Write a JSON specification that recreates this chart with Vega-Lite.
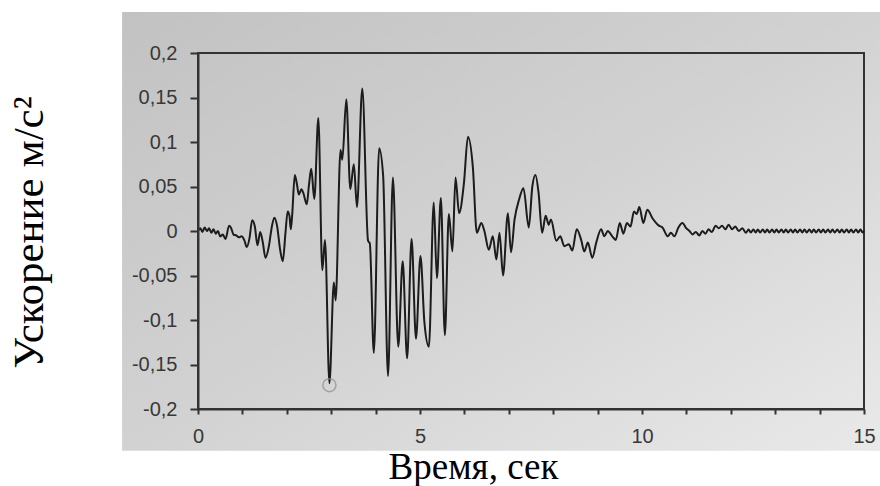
{
  "$schema": "https://vega.github.io/schema/vega-lite/v6.json",
  "width": 666,
  "height": 356,
  "autosize": {"type": "none"},
  "padding": {"left": 198, "top": 53, "right": 16, "bottom": 77},
  "background": "white",
  "config": {
    "view": {"stroke": null},
    "axis": {
      "zindex": 1,
      "grid": false,
      "titleFont": "Liberation Serif",
      "titleFontWeight": "normal",
      "titleColor": "#000000"
    }
  },
  "datasets": {
    "accel": [
      {"t": 0.00, "a": 0.000}, {"t": 0.05, "a": 0.003}, {"t": 0.10, "a": -0.001}, {"t": 0.15, "a": 0.004},
      {"t": 0.20, "a": 0.000}, {"t": 0.25, "a": 0.003}, {"t": 0.30, "a": -0.002}, {"t": 0.35, "a": 0.002},
      {"t": 0.40, "a": -0.003}, {"t": 0.45, "a": 0.000}, {"t": 0.50, "a": -0.006}, {"t": 0.56, "a": -0.004},
      {"t": 0.62, "a": -0.009}, {"t": 0.70, "a": 0.006}, {"t": 0.74, "a": 0.004}, {"t": 0.80, "a": -0.004},
      {"t": 0.86, "a": -0.005}, {"t": 0.92, "a": -0.007}, {"t": 0.98, "a": -0.006}, {"t": 1.04, "a": -0.010},
      {"t": 1.10, "a": -0.018}, {"t": 1.16, "a": -0.008}, {"t": 1.22, "a": 0.012}, {"t": 1.28, "a": 0.005},
      {"t": 1.34, "a": -0.016}, {"t": 1.40, "a": -0.001}, {"t": 1.46, "a": -0.013}, {"t": 1.52, "a": -0.030},
      {"t": 1.60, "a": -0.016}, {"t": 1.66, "a": 0.004}, {"t": 1.72, "a": 0.015}, {"t": 1.78, "a": 0.006},
      {"t": 1.85, "a": -0.021}, {"t": 1.91, "a": -0.034}, {"t": 1.97, "a": -0.002}, {"t": 2.02, "a": 0.022},
      {"t": 2.06, "a": 0.017}, {"t": 2.09, "a": 0.002}, {"t": 2.12, "a": 0.017}, {"t": 2.18, "a": 0.063},
      {"t": 2.23, "a": 0.052}, {"t": 2.27, "a": 0.041}, {"t": 2.33, "a": 0.047}, {"t": 2.37, "a": 0.043},
      {"t": 2.45, "a": 0.030}, {"t": 2.50, "a": 0.052}, {"t": 2.55, "a": 0.070}, {"t": 2.62, "a": 0.036},
      {"t": 2.71, "a": 0.127}, {"t": 2.80, "a": -0.044}, {"t": 2.86, "a": -0.010}, {"t": 2.96, "a": -0.171},
      {"t": 3.06, "a": -0.058}, {"t": 3.10, "a": -0.078}, {"t": 3.21, "a": 0.091}, {"t": 3.25, "a": 0.080},
      {"t": 3.34, "a": 0.148}, {"t": 3.43, "a": 0.047}, {"t": 3.51, "a": 0.075}, {"t": 3.58, "a": 0.027},
      {"t": 3.70, "a": 0.160}, {"t": 3.83, "a": -0.011}, {"t": 3.87, "a": -0.014}, {"t": 3.96, "a": -0.137},
      {"t": 4.08, "a": 0.093}, {"t": 4.17, "a": 0.062}, {"t": 4.28, "a": -0.163}, {"t": 4.39, "a": 0.060},
      {"t": 4.51, "a": -0.130}, {"t": 4.61, "a": -0.034}, {"t": 4.71, "a": -0.143}, {"t": 4.81, "a": -0.009},
      {"t": 4.91, "a": -0.121}, {"t": 5.01, "a": -0.028}, {"t": 5.10, "a": -0.103}, {"t": 5.20, "a": -0.130},
      {"t": 5.31, "a": 0.032}, {"t": 5.38, "a": -0.053}, {"t": 5.47, "a": 0.037}, {"t": 5.56, "a": -0.117},
      {"t": 5.65, "a": 0.019}, {"t": 5.73, "a": -0.023}, {"t": 5.80, "a": 0.060}, {"t": 5.88, "a": 0.020},
      {"t": 5.99, "a": 0.054}, {"t": 6.08, "a": 0.106}, {"t": 6.19, "a": 0.072}, {"t": 6.28, "a": -0.002},
      {"t": 6.38, "a": 0.009}, {"t": 6.45, "a": 0.000}, {"t": 6.55, "a": -0.021}, {"t": 6.64, "a": -0.006},
      {"t": 6.72, "a": -0.032}, {"t": 6.79, "a": -0.002}, {"t": 6.87, "a": -0.050}, {"t": 6.98, "a": 0.020},
      {"t": 7.05, "a": -0.024}, {"t": 7.13, "a": 0.013}, {"t": 7.23, "a": 0.035}, {"t": 7.33, "a": 0.048},
      {"t": 7.45, "a": 0.004}, {"t": 7.53, "a": 0.050}, {"t": 7.60, "a": 0.063}, {"t": 7.67, "a": 0.043},
      {"t": 7.75, "a": -0.002}, {"t": 7.83, "a": 0.017}, {"t": 7.90, "a": 0.007}, {"t": 7.95, "a": 0.013},
      {"t": 8.07, "a": -0.011}, {"t": 8.16, "a": -0.006}, {"t": 8.25, "a": -0.017}, {"t": 8.35, "a": -0.015},
      {"t": 8.43, "a": -0.022}, {"t": 8.53, "a": 0.002}, {"t": 8.63, "a": -0.010}, {"t": 8.70, "a": -0.023},
      {"t": 8.78, "a": -0.013}, {"t": 8.88, "a": -0.030}, {"t": 8.97, "a": -0.013}, {"t": 9.08, "a": 0.002},
      {"t": 9.15, "a": -0.006}, {"t": 9.23, "a": 0.000}, {"t": 9.33, "a": -0.006}, {"t": 9.41, "a": -0.010},
      {"t": 9.50, "a": 0.009}, {"t": 9.58, "a": -0.003}, {"t": 9.66, "a": 0.009}, {"t": 9.74, "a": 0.005},
      {"t": 9.82, "a": 0.022}, {"t": 9.88, "a": 0.019}, {"t": 9.94, "a": 0.027}, {"t": 10.03, "a": 0.009},
      {"t": 10.12, "a": 0.024}, {"t": 10.24, "a": 0.014}, {"t": 10.38, "a": 0.006}, {"t": 10.46, "a": 0.004},
      {"t": 10.58, "a": -0.006}, {"t": 10.65, "a": -0.002}, {"t": 10.73, "a": -0.006}, {"t": 10.82, "a": 0.004},
      {"t": 10.91, "a": 0.009}, {"t": 11.00, "a": 0.003}, {"t": 11.07, "a": 0.000}, {"t": 11.14, "a": -0.004},
      {"t": 11.21, "a": -0.001}, {"t": 11.29, "a": -0.005}, {"t": 11.36, "a": 0.000}, {"t": 11.43, "a": -0.003},
      {"t": 11.50, "a": 0.002}, {"t": 11.57, "a": -0.001}, {"t": 11.66, "a": 0.006}, {"t": 11.73, "a": 0.003},
      {"t": 11.80, "a": 0.006}, {"t": 11.88, "a": 0.002}, {"t": 11.95, "a": 0.007}, {"t": 12.03, "a": 0.002},
      {"t": 12.10, "a": 0.005}, {"t": 12.18, "a": 0.000}, {"t": 12.26, "a": 0.003}, {"t": 12.34, "a": -0.002},
      {"t": 12.40, "a": 0.0017}, {"t": 12.45, "a": -0.0017}, {"t": 12.51, "a": 0.0017}, {"t": 12.56, "a": -0.0017},
      {"t": 12.61, "a": 0.0017}, {"t": 12.66, "a": -0.0017}, {"t": 12.72, "a": 0.0017}, {"t": 12.77, "a": -0.0017},
      {"t": 12.82, "a": 0.0017}, {"t": 12.87, "a": -0.0017}, {"t": 12.93, "a": 0.0017}, {"t": 12.98, "a": -0.0017},
      {"t": 13.03, "a": 0.0017}, {"t": 13.08, "a": -0.0017}, {"t": 13.14, "a": 0.0017}, {"t": 13.19, "a": -0.0017},
      {"t": 13.24, "a": 0.0017}, {"t": 13.29, "a": -0.0017}, {"t": 13.35, "a": 0.0017}, {"t": 13.40, "a": -0.0017},
      {"t": 13.45, "a": 0.0017}, {"t": 13.50, "a": -0.0017}, {"t": 13.56, "a": 0.0017}, {"t": 13.61, "a": -0.0017},
      {"t": 13.66, "a": 0.0017}, {"t": 13.71, "a": -0.0017}, {"t": 13.77, "a": 0.0017}, {"t": 13.82, "a": -0.0017},
      {"t": 13.87, "a": 0.0017}, {"t": 13.92, "a": -0.0017}, {"t": 13.98, "a": 0.0017}, {"t": 14.03, "a": -0.0017},
      {"t": 14.08, "a": 0.0017}, {"t": 14.13, "a": -0.0017}, {"t": 14.19, "a": 0.0017}, {"t": 14.24, "a": -0.0017},
      {"t": 14.29, "a": 0.0017}, {"t": 14.34, "a": -0.0017}, {"t": 14.40, "a": 0.0017}, {"t": 14.45, "a": -0.0017},
      {"t": 14.50, "a": 0.0017}, {"t": 14.55, "a": -0.0017}, {"t": 14.61, "a": 0.0017}, {"t": 14.66, "a": -0.0017},
      {"t": 14.71, "a": 0.0017}, {"t": 14.76, "a": -0.0017}, {"t": 14.82, "a": 0.0017}, {"t": 14.87, "a": -0.0017},
      {"t": 14.92, "a": 0.0017}, {"t": 14.97, "a": -0.0017}, {"t": 15.00, "a": 0.0000}
    ]
  },
  "layer": [
    {
      "description": "Grey gradient panel behind the plot and its tick labels",
      "data": {"values": [{}]},
      "mark": {
        "type": "rect",
        "fill": {
          "gradient": "linear",
          "x1": 0, "y1": 0, "x2": 1, "y2": 1,
          "stops": [
            {"offset": 0, "color": "#c2c2c2"},
            {"offset": 0.5, "color": "#d2d2d2"},
            {"offset": 1, "color": "#e9e9e9"}
          ]
        }
      },
      "encoding": {
        "x": {"datum": -1.71, "type": "quantitative", "scale": {"domain": [0, 15], "nice": false, "zero": false}, "title": "Время, сек", "axis": {"zindex": 1}},
        "x2": {"datum": 15.36},
        "y": {"datum": 0.246, "type": "quantitative", "scale": {"domain": [-0.2, 0.2], "nice": false, "zero": false}, "title": "Ускорение м/с²", "axis": {"zindex": 1}},
        "y2": {"datum": -0.247}
      }
    },
    {
      "description": "Frame around the plotting area",
      "data": {"values": [{}]},
      "mark": {"type": "rect", "fill": null, "fillOpacity": 0, "stroke": "#333333", "strokeWidth": 2},
      "encoding": {
        "x": {"datum": 0, "type": "quantitative", "scale": {"domain": [0, 15], "nice": false, "zero": false}, "title": "Время, сек", "axis": {"zindex": 1}},
        "x2": {"datum": 15},
        "y": {"datum": 0.2, "type": "quantitative", "scale": {"domain": [-0.2, 0.2], "nice": false, "zero": false}, "title": "Ускорение м/с²", "axis": {"zindex": 1}},
        "y2": {"datum": -0.2}
      }
    },
    {
      "data": {"name": "accel"},
      "mark": {"type": "line", "interpolate": "monotone", "color": "#1c1c1c", "strokeWidth": 2},
      "encoding": {
        "x": {
          "field": "t",
          "type": "quantitative",
          "scale": {"domain": [0, 15], "nice": false, "zero": false},
          "title": "Время, сек",
          "axis": {
            "zindex": 1,
            "values": [0, 1, 2, 3, 4, 5, 6, 7, 8, 9, 10, 11, 12, 13, 14, 15],
            "labelExpr": "datum.value % 5 === 0 ? datum.label : ''",
            "labelOverlap": false,
            "labelFlush": false,
            "labelFont": "Liberation Sans",
            "labelFontSize": 20,
            "labelColor": "#383838",
            "labelPadding": 12,
            "domainColor": "#333333",
            "domainWidth": 2,
            "tickColor": "#333333",
            "tickWidth": 2,
            "tickSize": 5,
            "titleFontSize": 37,
            "titleX": 275,
            "titleY": 69,
            "titleAlign": "center",
            "titleBaseline": "alphabetic"
          }
        },
        "y": {
          "field": "a",
          "type": "quantitative",
          "scale": {"domain": [-0.2, 0.2], "nice": false, "zero": false},
          "title": "Ускорение м/с²",
          "axis": {
            "zindex": 1,
            "values": [-0.2, -0.15, -0.1, -0.05, 0, 0.05, 0.1, 0.15, 0.2],
            "labelExpr": "replace(toString(datum.value), '.', ',')",
            "labelFont": "Liberation Sans",
            "labelFontSize": 20,
            "labelColor": "#383838",
            "labelPadding": 13,
            "domainColor": "#333333",
            "domainWidth": 2,
            "tickColor": "#333333",
            "tickWidth": 2,
            "tickSize": 8,
            "titleFontSize": 43,
            "titleAngle": 270,
            "titleX": -156,
            "titleY": 179,
            "titleAlign": "center",
            "titleBaseline": "alphabetic"
          }
        }
      }
    },
    {
      "description": "Open circle marking the deepest trough",
      "data": {"name": "accel"},
      "transform": [
        {"joinaggregate": [{"op": "min", "field": "a", "as": "amin"}]},
        {"filter": "datum.a === datum.amin"}
      ],
      "mark": {"type": "point", "filled": false, "stroke": "#8c8c8c", "strokeWidth": 1.5, "size": 170, "yOffset": 2},
      "encoding": {
        "x": {"field": "t", "type": "quantitative", "scale": {"domain": [0, 15], "nice": false, "zero": false}, "title": "Время, сек", "axis": {"zindex": 1}},
        "y": {"field": "a", "type": "quantitative", "scale": {"domain": [-0.2, 0.2], "nice": false, "zero": false}, "title": "Ускорение м/с²", "axis": {"zindex": 1}}
      }
    }
  ]
}
